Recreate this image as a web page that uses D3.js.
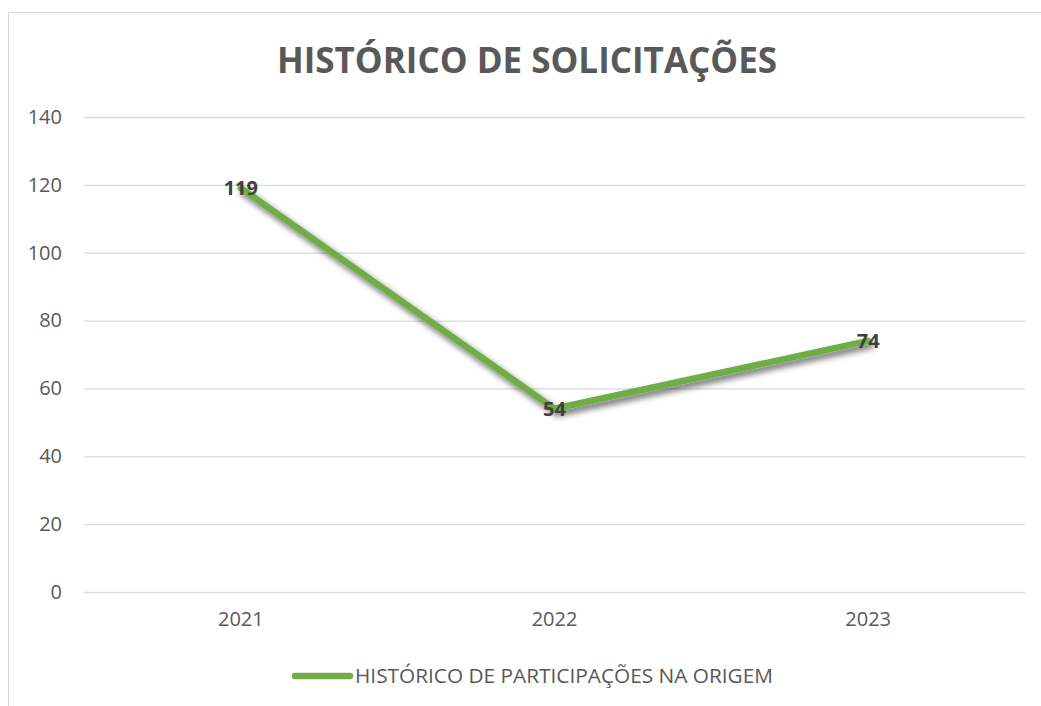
<!DOCTYPE html>
<html><head><meta charset="utf-8">
<script src="https://cdn.jsdelivr.net/npm/d3@7"></script>
<style>body{margin:0;background:#fff}svg{display:block}text{font-family:"Open Sans",sans-serif}</style>
</head><body><svg id="c" width="1041" height="706"></svg>
<script>
const categories = ["2021","2022","2023"];
const values = [119,54,74];
const yTicks = [0,20,40,60,80,100,120,140];
const title = "HISTÓRICO DE SOLICITAÇÕES";
const seriesName = "HISTÓRICO DE PARTICIPAÇÕES NA ORIGEM";

const FONT = "'Open Sans',sans-serif";
const svg = d3.select("#c");
const defs = svg.append("defs");
const f = defs.append("filter").attr("id","sh").attr("x","-10%").attr("y","-10%").attr("width","130%").attr("height","140%");
f.append("feGaussianBlur").attr("in","SourceAlpha").attr("stdDeviation",3);
f.append("feOffset").attr("dx",3).attr("dy",4).attr("result","o");
f.append("feComponentTransfer").append("feFuncA").attr("type","linear").attr("slope",0.6);
const m = f.append("feMerge"); m.append("feMergeNode"); m.append("feMergeNode").attr("in","SourceGraphic");

// frame
svg.append("rect").attr("x",8.5).attr("y",12.5).attr("width",1100).attr("height",800).attr("fill","none").attr("stroke","#d9d9d9").attr("stroke-width",1);

const x = d3.scaleBand().domain(categories).range([84,1025]);
const y = d3.scaleLinear().domain([0,140]).range([592,117]);

svg.append("text").attr("x",527).attr("y",60).attr("dy","0.36em").attr("text-anchor","middle").attr("font-size",35).attr("font-weight","bold").attr("fill","#595959").text(title);

const gy = svg.append("g").attr("transform","translate(84,0)").call(d3.axisLeft(y).tickValues(yTicks).tickSize(-941).tickPadding(22));
gy.select(".domain").remove();
gy.selectAll("line").attr("stroke","#d9d9d9").attr("stroke-width",1.3);
gy.selectAll("text").attr("font-size",20).attr("fill","#595959").attr("font-family",FONT);

const gx = svg.append("g").attr("transform","translate(0,592)").call(d3.axisBottom(x).tickSize(0).tickPadding(20));
gx.select(".domain").remove();
gx.selectAll("text").attr("font-size",20).attr("fill","#595959").attr("font-family",FONT);

const line = d3.line().x((d,i)=>x(categories[i])+x.bandwidth()/2).y(d=>y(d));
svg.append("path").datum(values).attr("d",line).attr("fill","none").attr("stroke","#70AD47").attr("stroke-width",6.5).attr("stroke-linejoin","round").attr("stroke-linecap","round").attr("filter","url(#sh)");

svg.selectAll(".lbl").data(values).enter().append("text").attr("class","lbl")
  .attr("x",(d,i)=>x(categories[i])+x.bandwidth()/2).attr("y",d=>y(d)).attr("dy","0.36em")
  .attr("text-anchor","middle").attr("font-size",20).attr("font-weight","bold").attr("fill","#404040").text(d=>d);

// legend
svg.append("line").attr("x1",295).attr("x2",350).attr("y1",676).attr("y2",676).attr("stroke","#70AD47").attr("stroke-width",6.5).attr("stroke-linecap","round");
svg.append("text").attr("x",355).attr("y",676).attr("dy","0.36em").attr("font-size",20.8).attr("fill","#595959").text(seriesName);
</script></body></html>
